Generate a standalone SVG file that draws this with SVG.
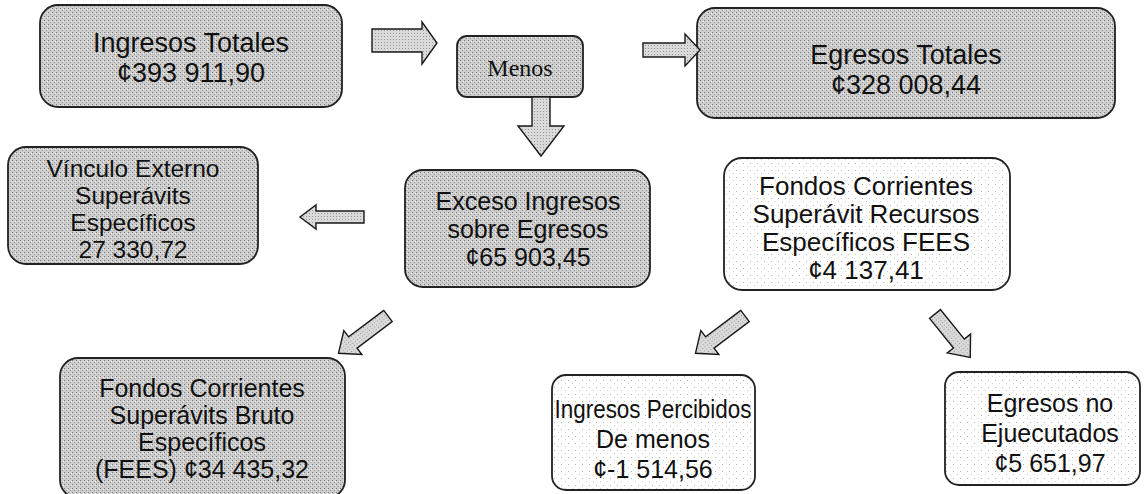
<svg xmlns="http://www.w3.org/2000/svg" width="1145" height="494" viewBox="0 0 1145 494">
<defs>
<pattern id="pg" width="4" height="4" patternUnits="userSpaceOnUse">
<rect width="4" height="4" fill="#cdcdcd"/>
<rect x="0" y="0" width="1" height="1" fill="#7a7a7a"/>
<rect x="2" y="2" width="1" height="1" fill="#9a9a9a"/>
<rect x="3" y="1" width="1" height="1" fill="#efefef"/>
</pattern>
<pattern id="pw" width="7" height="7" patternUnits="userSpaceOnUse">
<rect width="7" height="7" fill="#ffffff"/>
<rect x="1" y="2" width="1" height="1" fill="#b4b4b4"/>
<rect x="5" y="5" width="1" height="1" fill="#d0d0d0"/>
</pattern>
<pattern id="pa" width="3" height="3" patternUnits="userSpaceOnUse">
<rect width="3" height="3" fill="#dadada"/>
<rect x="0" y="0" width="1" height="1" fill="#999999"/>
</pattern>
<style>
.g{fill:url(#pg);stroke:#222;stroke-width:1.8}
.w{fill:url(#pw);stroke:#222;stroke-width:1.8}
.a{fill:url(#pa);stroke:#1a1a1a;stroke-width:1.4;stroke-linejoin:miter}
text{font-family:"Liberation Sans",Arial,sans-serif;font-size:25px;fill:#111;text-anchor:middle}
.serif{font-family:"Liberation Serif","Times New Roman",serif;font-size:24px}
</style>
</defs>
<rect width="1145" height="494" fill="#ffffff"/>
<g id="ingresos-totales">
<rect class="g" x="40" y="5" width="302" height="102" rx="18"/>
<text x="191" y="52" style="font-size:27px">Ingresos Totales</text>
<text x="191" y="82" style="font-size:27px">¢393 911,90</text>
</g>
<g id="menos">
<rect class="g" x="457" y="36" width="126" height="61" rx="10"/>
<text class="serif" x="520" y="76">Menos</text>
</g>
<g id="egresos-totales">
<rect class="g" x="697" y="8" width="418" height="110" rx="18"/>
<text x="906" y="64" style="font-size:27px">Egresos Totales</text>
<text x="906" y="94" style="font-size:27px">¢328 008,44</text>
</g>
<g id="vinculo-externo">
<rect class="g" x="8" y="147" width="250" height="117" rx="18"/>
<text x="133" y="177" style="font-size:24.5px">Vínculo Externo</text>
<text x="133" y="204" style="font-size:24.5px">Superávits</text>
<text x="133" y="231" style="font-size:24.5px">Específicos</text>
<text x="133" y="258" style="font-size:24.5px">27 330,72</text>
</g>
<g id="exceso">
<rect class="g" x="405" y="170" width="245" height="117" rx="18"/>
<text x="528" y="210">Exceso Ingresos</text>
<text x="528" y="238">sobre Egresos</text>
<text x="528" y="266">¢65 903,45</text>
</g>
<g id="fees">
<rect class="w" x="724" y="158" width="286" height="132" rx="18"/>
<text x="866" y="195" style="font-size:26px">Fondos Corrientes</text>
<text x="866" y="223" style="font-size:26px">Superávit Recursos</text>
<text x="866" y="251" style="font-size:26px">Específicos FEES</text>
<text x="866" y="279" style="font-size:26px">¢4 137,41</text>
</g>
<g id="bruto">
<rect class="g" x="60" y="358" width="285" height="140" rx="18"/>
<text x="202" y="397">Fondos Corrientes</text>
<text x="202" y="424">Superávits Bruto</text>
<text x="202" y="451">Específicos</text>
<text x="202" y="478">(FEES) ¢34 435,32</text>
</g>
<g id="ingresos-percibidos">
<rect class="w" x="552" y="375" width="203" height="115" rx="14"/>
<text x="653" y="418" textLength="197" lengthAdjust="spacingAndGlyphs">Ingresos Percibidos</text>
<text x="653" y="448">De menos</text>
<text x="653" y="478">¢-1 514,56</text>
</g>
<g id="egresos-no-ejecutados">
<rect class="w" x="945" y="372" width="195" height="113" rx="14"/>
<text x="1050" y="412">Egresos no</text>
<text x="1050" y="442">Ejuecutados</text>
<text x="1050" y="472">¢5 651,97</text>
</g>
<g id="connectors">
<polygon class="a" points="372,29 422,29 422,22 437,43 422,64 422,52 372,52"/>
<polygon class="a" points="643,43 685,43 685,34 700,50 685,66 685,57 643,57"/>
<polygon class="a" points="532,97 550,97 550,126 564,126 541,156 518,126 532,126"/>
<polygon class="a" points="364,211 316,211 316,205 300,217 316,229 316,223 364,223"/>
<polygon class="a" points="0,-7 -44,-7 -44,-15 -62,0 -44,15 -44,7 0,7" transform="translate(388,316) rotate(-37)"/>
<polygon class="a" points="0,-7 -44,-7 -44,-15 -62,0 -44,15 -44,7 0,7" transform="translate(745,316) rotate(-37)"/>
<polygon class="a" points="0,-7 -38,-7 -38,-15 -56,0 -38,15 -38,7 0,7" transform="translate(935,314) rotate(-129)"/>
</g>
</svg>
